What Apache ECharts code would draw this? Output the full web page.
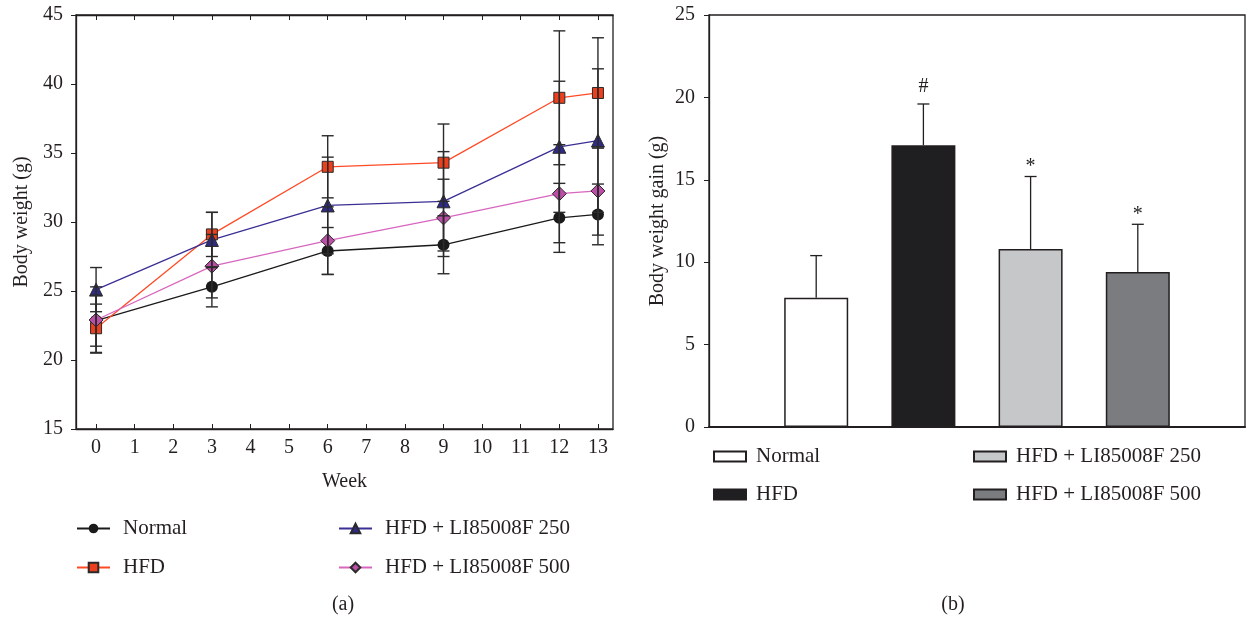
<!DOCTYPE html>
<html><head><meta charset="utf-8">
<script src="https://cdn.jsdelivr.net/npm/echarts@6/dist/echarts.min.js"></script>
<style>html,body{margin:0;padding:0;background:#fff}#c{width:1255px;height:618px}</style>
</head><body><div id="c"></div>
<script>
// ---- data (a) ----
const weeks = [0, 3, 6, 9, 12, 13];
const weekTicks = [0,1,2,3,4,5,6,7,8,9,10,11,12,13];
const normal   = [22.85, 25.3, 27.9, 28.35, 30.3, 30.55];
const normalSD = [1.85, 1.45, 1.7, 2.1, 2.5, 2.2];
const hfd      = [22.3, 29.1, 34.0, 34.3, 39.0, 39.35];
const hfdSD    = [1.75, 1.6, 2.25, 2.8, 4.85, 4.0];
const hfd250   = [25.1, 28.7, 31.2, 31.5, 35.45, 35.9];
const hfd250SD = [1.6, 2.0, 3.5, 3.6, 4.75, 5.2];
const hfd500   = [22.9, 26.8, 28.65, 30.3, 32.05, 32.25];
const hfd500SD = [2.4, 2.3, 2.45, 2.8, 3.55, 3.2];
// ---- data (b) ----
const groups = ['Normal', 'HFD', 'HFD + LI85008F 250', 'HFD + LI85008F 500'];
const groupPos = [1, 2, 3, 4];
const gain   = [7.85, 17.1, 10.8, 9.4];
const gainSD = [2.55, 2.5, 4.4, 2.9];
const sig    = ['', '#', '*', '*'];

const FONT = "'Liberation Serif','Times New Roman',serif";
const TXT = '#231f20';
const lineColors = ['#1a1a1a', '#ff4a26', '#3a2f95', '#d866be'];
const fillColors = ['#1a1a1a', '#ec3f1d', '#2f2a86', '#bb4ea6'];
const symbols = ['circle', 'rect', 'triangle', 'diamond'];
const symSizes = [12, 11, 13, 14];
const barColors = ['#ffffff', '#1f1f21', '#c6c7c9', '#7b7c80'];

const lineSets = [
  {name: 'Normal', v: normal, sd: normalSD},
  {name: 'HFD', v: hfd, sd: hfdSD},
  {name: 'HFD + LI85008F 250', v: hfd250, sd: hfd250SD},
  {name: 'HFD + LI85008F 500', v: hfd500, sd: hfd500SD}
];

const series = [];
lineSets.forEach((s, i) => {
  series.push({
    type: 'line', name: s.name, xAxisIndex: 0, yAxisIndex: 0,
    data: weeks.map((w, j) => [w, s.v[j]]),
    symbol: symbols[i], symbolSize: symSizes[i],
    lineStyle: {color: lineColors[i], width: 1.3},
    itemStyle: {color: fillColors[i], borderColor: '#2a2a2a', borderWidth: i === 0 ? 0 : 1},
    z: 3, animation: false
  });
});
// error bars (a)
const errData = [];
lineSets.forEach(s => weeks.forEach((w, j) => errData.push([w, s.v[j] - s.sd[j], s.v[j] + s.sd[j]])));
series.push({
  type: 'custom', xAxisIndex: 0, yAxisIndex: 0, z: 4, animation: false, silent: true,
  data: errData,
  renderItem: (params, api) => {
    const lo = api.coord([api.value(0), api.value(1)]);
    const hi = api.coord([api.value(0), api.value(2)]);
    const hw = 6;
    const st = {stroke: '#2b2b2b', lineWidth: 1.4};
    return {type: 'group', children: [
      {type: 'line', shape: {x1: lo[0], y1: lo[1], x2: hi[0], y2: hi[1]}, style: st},
      {type: 'line', shape: {x1: lo[0]-hw, y1: lo[1], x2: lo[0]+hw, y2: lo[1]}, style: st},
      {type: 'line', shape: {x1: hi[0]-hw, y1: hi[1], x2: hi[0]+hw, y2: hi[1]}, style: st}
    ]};
  }
});
// bars (b) — series names prefixed so their legend is separate from panel (a)
groups.forEach((g, i) => {
  series.push({
    type: 'bar', name: 'b:' + g, xAxisIndex: 2, yAxisIndex: 1,
    data: [[groupPos[i], gain[i]]], barWidth: 64, barGap: '-100%',
    itemStyle: {color: barColors[i], borderColor: '#231f20', borderWidth: 1.5},
    animation: false
  });
});
series.push({
  type: 'custom', xAxisIndex: 2, yAxisIndex: 1, z: 5, animation: false, silent: true,
  data: groupPos.map((p, i) => [p, gain[i], gain[i] + gainSD[i], i]),
  renderItem: (params, api) => {
    const lo = api.coord([api.value(0), api.value(1)]);
    const hi = api.coord([api.value(0), api.value(2)]);
    const k = api.value(3);
    const st = {stroke: '#231f20', lineWidth: 1.3};
    const ch = [
      {type: 'line', shape: {x1: lo[0], y1: lo[1], x2: hi[0], y2: hi[1]}, style: st},
      {type: 'line', shape: {x1: hi[0]-6, y1: hi[1], x2: hi[0]+6, y2: hi[1]}, style: st}
    ];
    if (sig[k]) ch.push({type: 'text', style: {text: sig[k], x: hi[0], y: hi[1] - (sig[k] === '#' ? 7 : 0),
      align: 'center', verticalAlign: 'bottom', font: '20px ' + FONT, fill: TXT}});
    return {type: 'group', children: ch};
  }
});

const axisLine = {show: true, onZero: false, lineStyle: {color: '#231f20', width: 1.3}};
const lbl = {color: TXT, fontFamily: FONT, fontSize: 20};
const legTxt = {color: TXT, fontFamily: FONT, fontSize: 21};
const strip = n => n.replace(/^b:/, '');

const option = {
  animation: false,
  textStyle: {fontFamily: FONT, color: TXT},
  grid: [
    {left: 76, top: 15, width: 537, height: 414, show: true, borderColor: '#231f20', borderWidth: 1.3},
    {left: 709, top: 15, width: 536, height: 412, show: true, borderColor: '#231f20', borderWidth: 1.3}
  ],
  xAxis: [
    {gridIndex: 0, type: 'value', min: -0.52, max: 13.39, interval: 1, position: 'bottom',
      axisLine, splitLine: {show: false},
      axisTick: {show: true, inside: true, length: 5, customValues: weekTicks, lineStyle: {color: '#231f20'}},
      axisLabel: Object.assign({margin: 9, customValues: weekTicks}, lbl),
      name: 'Week', nameLocation: 'middle', nameGap: 43, nameTextStyle: lbl},
    {gridIndex: 0, type: 'value', min: -0.52, max: 13.39, position: 'top',
      axisLine, splitLine: {show: false},
      axisTick: {show: true, inside: true, length: 5, customValues: weekTicks, lineStyle: {color: '#231f20'}},
      axisLabel: {show: false}},
    {gridIndex: 1, type: 'value', min: 0, max: 5, position: 'bottom',
      axisLine: {show: true, onZero: false, lineStyle: {color: '#231f20', width: 2}}, splitLine: {show: false},
      axisTick: {show: false}, axisLabel: {show: false}}
  ],
  yAxis: [
    {gridIndex: 0, type: 'value', min: 15, max: 45, interval: 5,
      axisLine, splitLine: {show: false},
      axisTick: {show: true, length: 5, lineStyle: {color: '#231f20'}},
      axisLabel: Object.assign({margin: 13}, lbl),
      name: 'Body weight (g)', nameLocation: 'middle', nameGap: 44, nameTextStyle: lbl},
    {gridIndex: 1, type: 'value', min: 0, max: 25, interval: 5,
      axisLine, splitLine: {show: false},
      axisTick: {show: true, length: 5, lineStyle: {color: '#231f20'}},
      axisLabel: Object.assign({margin: 14}, lbl),
      name: 'Body weight gain (g)', nameLocation: 'middle', nameGap: 41, nameTextStyle: lbl}
  ],
  legend: [
    {data: ['Normal', 'HFD'], left: 76, top: 518, orient: 'vertical', padding: 0,
      itemWidth: 33, itemHeight: 12, itemGap: 18, textStyle: Object.assign({padding: [0,0,0,8]}, legTxt), selectedMode: false},
    {data: ['HFD + LI85008F 250', 'HFD + LI85008F 500'], left: 338, top: 518, orient: 'vertical', padding: 0,
      itemWidth: 33, itemHeight: 12, itemGap: 18, textStyle: Object.assign({padding: [0,0,0,8]}, legTxt), selectedMode: false},
    {data: ['b:Normal', 'b:HFD'], formatter: strip, left: 713, top: 446, orient: 'vertical', icon: 'rect', padding: 0,
      itemWidth: 32, itemHeight: 10, itemGap: 17, textStyle: Object.assign({padding: [0,0,0,5]}, legTxt), selectedMode: false},
    {data: ['b:HFD + LI85008F 250', 'b:HFD + LI85008F 500'], formatter: strip, left: 973, top: 446, orient: 'vertical', icon: 'rect', padding: 0,
      itemWidth: 32, itemHeight: 10, itemGap: 17, textStyle: Object.assign({padding: [0,0,0,5]}, legTxt), selectedMode: false}
  ],
  title: [
    {text: '(a)', left: 338, top: 590, textAlign: 'center', textStyle: {fontFamily: FONT, fontSize: 20, fontWeight: 'normal', color: TXT}},
    {text: '(b)', left: 948, top: 590, textAlign: 'center', textStyle: {fontFamily: FONT, fontSize: 20, fontWeight: 'normal', color: TXT}}
  ],
  series
};
const chart = echarts.init(document.getElementById('c'), null, {renderer: 'canvas'});
chart.setOption(option);
</script></body></html>
